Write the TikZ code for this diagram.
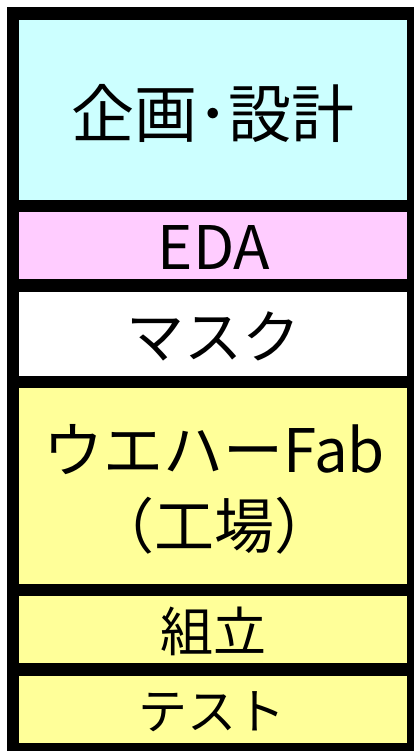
\documentclass[tikz,border=0pt]{standalone}
\usepackage{fontspec}
\setmainfont{Noto Sans CJK JP}
\definecolor{cellcyan}{HTML}{CCFFFF}
\definecolor{cellpink}{HTML}{FFCCFF}
\definecolor{cellyellow}{HTML}{FFFF99}
\tikzset{
  cell/.style={rectangle, inner sep=0pt, minimum width=388pt, anchor=north west},
  lbl/.style={inner sep=0pt, anchor=center, align=center, text=black},
}
\begin{document}
\begin{tikzpicture}[x=1pt,y=-1pt]
\useasboundingbox (0,0) rectangle (414,751);
\fill[black] (7,7) rectangle (414,751);
\node[cell, fill=cellcyan, minimum height=180pt] (c1) at (19,20) {};
\node[cell, fill=cellpink, minimum height=67pt] (c2) at (19,212) {};
\node[cell, fill=white, minimum height=84pt] (c3) at (19,292) {};
\node[cell, fill=cellyellow, minimum height=196pt] (c4) at (19,388) {};
\node[cell, fill=cellyellow, minimum height=67pt] (c5) at (19,596) {};
\node[cell, fill=cellyellow, minimum height=67pt] (c6) at (19,676) {};
\node[lbl, font=\fontsize{63}{72}\selectfont] (t1) at (213,113) {企画･設計};
\node[lbl, font=\fontsize{60}{72}\selectfont] (t2) at (214,248) {EDA};
\node[lbl, font=\fontsize{58}{70}\selectfont] (t3) at (213,336) {マスク};
\node[lbl, font=\fontsize{60}{76}\selectfont] (t4) at (214,489) {ウエハーFab\\（工場）};
\node[lbl, font=\fontsize{53}{64}\selectfont] (t5) at (213,631) {組立};
\node[lbl, font=\fontsize{49}{60}\selectfont] (t6) at (212,712) {テスト};
\end{tikzpicture}
\end{document}
